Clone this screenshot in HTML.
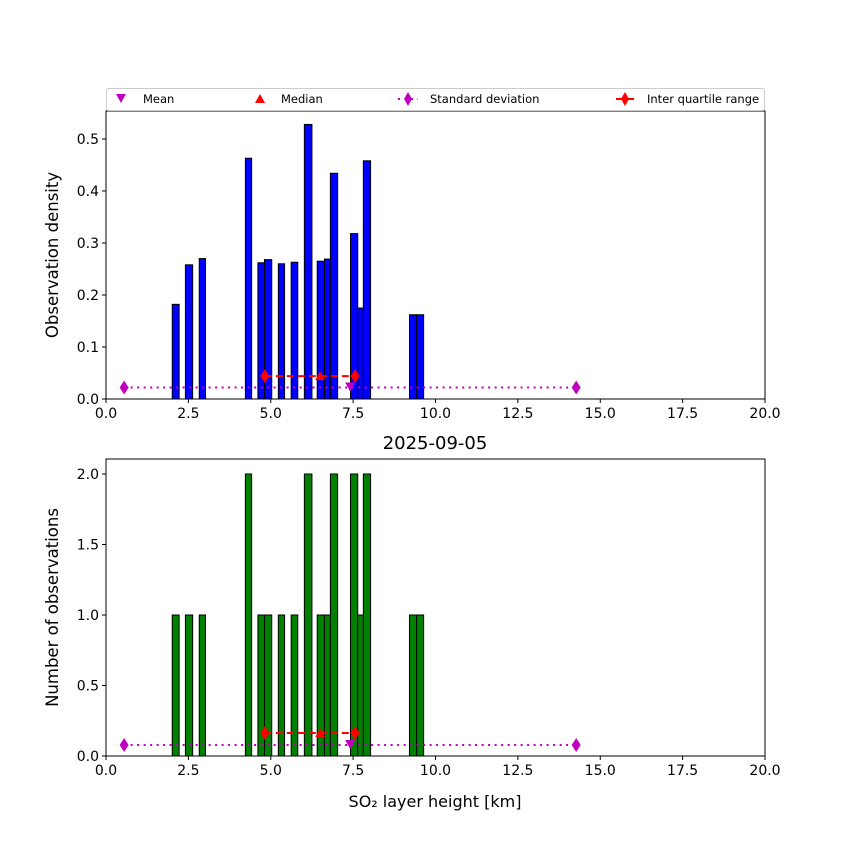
<!DOCTYPE html>
<html><head><meta charset="utf-8"><style>
body{margin:0;background:#fff}
svg{display:block;font-family:"DejaVu Sans","Liberation Sans",sans-serif}
</style></head><body>
<svg id="chart" width="850" height="850" viewBox="0 0 850 850"></svg>
<script>
const binLeft=[2.01,2.41,2.83,4.23,4.61,4.81,5.23,5.62,6.02,6.41,6.63,6.81,7.42,7.64,7.81,9.21,9.43];
const binRight=[2.22,2.63,3.02,4.42,4.81,5.03,5.42,5.82,6.25,6.63,6.81,7.03,7.64,7.81,8.03,9.43,9.64];
const counts=[1,1,1,2,1,1,1,1,2,1,1,2,2,1,2,1,1];
const densities=[0.182,0.258,0.270,0.463,0.262,0.268,0.260,0.263,0.528,0.265,0.269,0.434,0.318,0.175,0.458,0.162,0.162];
const xTicks=[0,2.5,5,7.5,10,12.5,15,17.5,20];
const xTickLabels=["0.0","2.5","5.0","7.5","10.0","12.5","15.0","17.5","20.0"];
const topYTicks=[0,0.1,0.2,0.3,0.4,0.5];
const topYTickLabels=["0.0","0.1","0.2","0.3","0.4","0.5"];
const botYTicks=[0,0.5,1,1.5,2];
const botYTickLabels=["0.0","0.5","1.0","1.5","2.0"];
const statMean=7.41, statMedian=6.5, statStdLo=0.55, statStdHi=14.27, statQ1=4.82, statQ3=7.56;
const topStatY=[0.022,0.044];
const botStatY=[0.078,0.163];

const NS="http://www.w3.org/2000/svg";
const svg=document.getElementById('chart');
function mk(tag,attrs,parent){const e=document.createElementNS(NS,tag);for(const k in attrs)e.setAttribute(k,attrs[k]);(parent||svg).appendChild(e);return e;}
const X0=106,X1=765;
const xs=v=>X0+(v-0)/(20-0)*(X1-X0);

function panel(name,top,bottom,ymax,vals,fill,yTicks,yLabels,ylabel,statY){
  const ys=v=>bottom-v/ymax*(bottom-top);
  const g=mk('g',{});
  
  
  for(let i=0;i<vals.length;i++){
    const r=mk('rect',{x:xs(binLeft[i]),y:ys(vals[i]),width:xs(binRight[i])-xs(binLeft[i]),height:bottom-ys(vals[i]),fill:fill,stroke:'#000','stroke-width':1},g);
    
    
  }
  const sy=ys(statY[0]), qy=ys(statY[1]);
  const sl=mk('line',{x1:xs(statStdLo),y1:sy,x2:xs(statStdHi),y2:sy,stroke:'#bf00bf','stroke-width':2,'stroke-dasharray':'2,4.5'},g);
  
  
  [statStdLo,statStdHi].forEach(v=>{const d=mk('path',{d:`M${xs(v)},${sy-7}L${xs(v)+4.5},${sy}L${xs(v)},${sy+7}L${xs(v)-4.5},${sy}Z`,fill:'#bf00bf'},g);
    
    });
  const ql=mk('line',{x1:xs(statQ1),y1:qy,x2:xs(statQ3),y2:qy,stroke:'#ff0000','stroke-width':2,'stroke-dasharray':'7,4'},g);
  
  
  [statQ1,statQ3].forEach(v=>{const d=mk('path',{d:`M${xs(v)},${qy-7}L${xs(v)+4.5},${qy}L${xs(v)},${qy+7}L${xs(v)-4.5},${qy}Z`,fill:'#ff0000'},g);
    
    });
  const mx=xs(statMedian);
  const md=mk('path',{d:`M${mx},${qy-5}L${mx+5},${qy+4}L${mx-5},${qy+4}Z`,fill:'#ff0000'},g);
  
  
  const mn=xs(statMean);
  const me=mk('path',{d:`M${mn-5},${sy-5}L${mn+5},${sy-5}L${mn},${sy+4}Z`,fill:'#bf00bf'},g);
  
  
  const fr=mk('rect',{x:X0,y:top,width:X1-X0,height:bottom-top,fill:'none',stroke:'#000','stroke-width':1},g);
  
  
  xTicks.forEach((v,i)=>{mk('line',{x1:xs(v),y1:bottom,x2:xs(v),y2:bottom+4,stroke:'#000'},g);
    const t=mk('text',{x:xs(v),y:bottom+19,'text-anchor':'middle','font-size':14},g);t.textContent=xTickLabels[i];
    
    });
  yTicks.forEach((v,i)=>{mk('line',{x1:X0-4,y1:ys(v),x2:X0,y2:ys(v),stroke:'#000'},g);
    const t=mk('text',{x:X0-7,y:ys(v)+5,'text-anchor':'end','font-size':14},g);t.textContent=yLabels[i];
    
    });
  const yl=mk('text',{x:0,y:0,'text-anchor':'middle','font-size':16.5,transform:`translate(58,${(top+bottom)/2}) rotate(-90)`},g);
  yl.textContent=ylabel;
  
  
}
panel('density-panel',111,399,0.5538,densities,'#0000ff',topYTicks,topYTickLabels,'Observation density',topStatY);
panel('count-panel',459,756,2.1064,counts,'#008000',botYTicks,botYTickLabels,'Number of observations',botStatY);

const title=mk('text',{x:435,y:449,'text-anchor':'middle','font-size':18});
title.textContent='2025-09-05';


const xl=mk('text',{x:435,y:807,'text-anchor':'middle','font-size':16});
xl.textContent='SO₂ layer height [km]';



const lg=mk('g',{});


mk('rect',{x:106.5,y:88.5,width:658,height:22,rx:2,fill:'#fff',stroke:'#ccc'},lg);
function ltext(x,s){const t=mk('text',{x:x,y:103,'font-size':11.5},lg);t.textContent=s;
  
  }
mk('path',{d:'M116,94L126,94L121,103Z',fill:'#bf00bf'},lg);ltext(143,'Mean');
mk('path',{d:'M260,94L265,103L255,103Z',fill:'#ff0000'},lg);ltext(281,'Median');
mk('line',{x1:398,y1:99,x2:418,y2:99,stroke:'#bf00bf','stroke-width':2,'stroke-dasharray':'2,4.5'},lg);
mk('path',{d:'M408,92L412,99L408,106L404,99Z',fill:'#bf00bf'},lg);ltext(430,'Standard deviation');
mk('line',{x1:616,y1:99,x2:634,y2:99,stroke:'#ff0000','stroke-width':2},lg);
mk('path',{d:'M625,92L629,99L625,106L621,99Z',fill:'#ff0000'},lg);ltext(647,'Inter quartile range');
</script>
</body></html>
